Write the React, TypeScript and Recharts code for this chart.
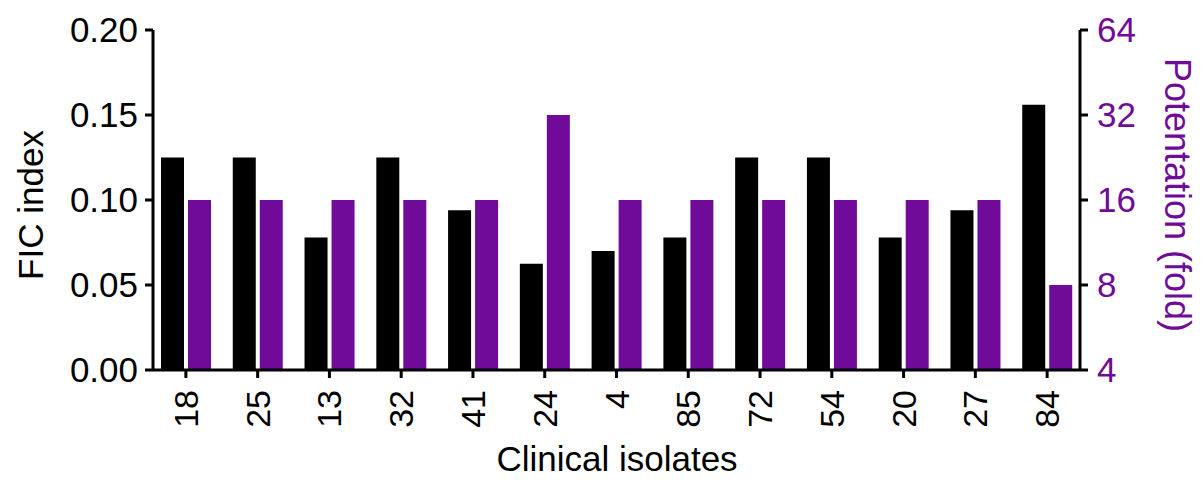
import React from "react";
import { BarChart, Bar, XAxis, YAxis, Label } from "recharts";

const isolates = ["18", "25", "13", "32", "41", "24", "4", "85", "72", "54", "20", "27", "84"];
const ficIndex = [0.125, 0.125, 0.078, 0.125, 0.094, 0.0625, 0.07, 0.078, 0.125, 0.125, 0.078, 0.094, 0.156];
const potentiation = [16, 16, 16, 16, 16, 32, 16, 16, 16, 16, 16, 16, 8];
const ficTicks = [0, 0.05, 0.1, 0.15, 0.2];
const foldTicks = [4, 8, 16, 32, 64];

const PURPLE = "#6f0a99";
const FONT = "'Liberation Sans', Arial, sans-serif";

const data = isolates.map((name, i) => ({ name, fic: ficIndex[i], fold: potentiation[i] }));

const axisLine = { stroke: "#000", strokeWidth: 3 };

function XTick(props: any) {
  const { x, y, payload } = props;
  return (
    <text
      x={x}
      y={y}
      transform={`rotate(-90, ${x}, ${y})`}
      dx={-10}
      dy={12}
      textAnchor="end"
      fontSize={34}
      fontFamily={FONT}
      fill="#000"
    >
      {payload.value}
    </text>
  );
}

export default function App() {
  return (
    <div style={{ position: "absolute", left: 0, top: 0, background: "#fff" }}>
      <BarChart
        width={1201}
        height={481}
        data={data}
        margin={{ top: 30, right: 0, left: 0, bottom: 0 }}
        barGap={4}
        barSize={23}
      >
        <XAxis
          dataKey="name"
          height={111}
          padding={{ left: -3, right: -3 }}
          axisLine={axisLine}
          tickLine={axisLine}
          tickSize={8}
          interval={0}
          tick={<XTick />}
        >
          <Label
            content={() => (
              <text x={617} y={471} textAnchor="middle" fontSize={35} fontFamily={FONT} fill="#000">
                Clinical isolates
              </text>
            )}
          />
        </XAxis>
        <YAxis
          yAxisId="left"
          width={153}
          domain={[0, 0.2]}
          ticks={ficTicks}
          tickFormatter={(v: number) => v.toFixed(2)}
          axisLine={axisLine}
          tickLine={axisLine}
          tickSize={8}
          tickMargin={7}
          tick={{ fontSize: 35, fontFamily: FONT, fill: "#000" }}
        >
          <Label
            content={() => (
              <text
                x={30}
                y={205}
                transform="rotate(-90, 30, 205)"
                textAnchor="middle"
                dominantBaseline="central"
                fontSize={35}
                fontFamily={FONT}
                fill="#000"
              >
                FIC index
              </text>
            )}
          />
        </YAxis>
        <YAxis
          yAxisId="right"
          orientation="right"
          width={121}
          scale="log"
          type="number"
          domain={[4, 64]}
          ticks={foldTicks}
          allowDataOverflow
          axisLine={axisLine}
          tickLine={axisLine}
          tickSize={8}
          tickMargin={9}
          tick={{ fontSize: 35, fontFamily: FONT, fill: PURPLE }}
        >
          <Label
            content={() => (
              <text
                x={1177}
                y={195}
                transform="rotate(90, 1177, 195)"
                textAnchor="middle"
                dominantBaseline="central"
                fontSize={36}
                fontFamily={FONT}
                fill={PURPLE}
              >
                Potentation (fold)
              </text>
            )}
          />
        </YAxis>
        <Bar yAxisId="left" dataKey="fic" fill="#000" isAnimationActive={false} />
        <Bar yAxisId="right" dataKey="fold" fill={PURPLE} isAnimationActive={false} />
      </BarChart>
    </div>
  );
}
